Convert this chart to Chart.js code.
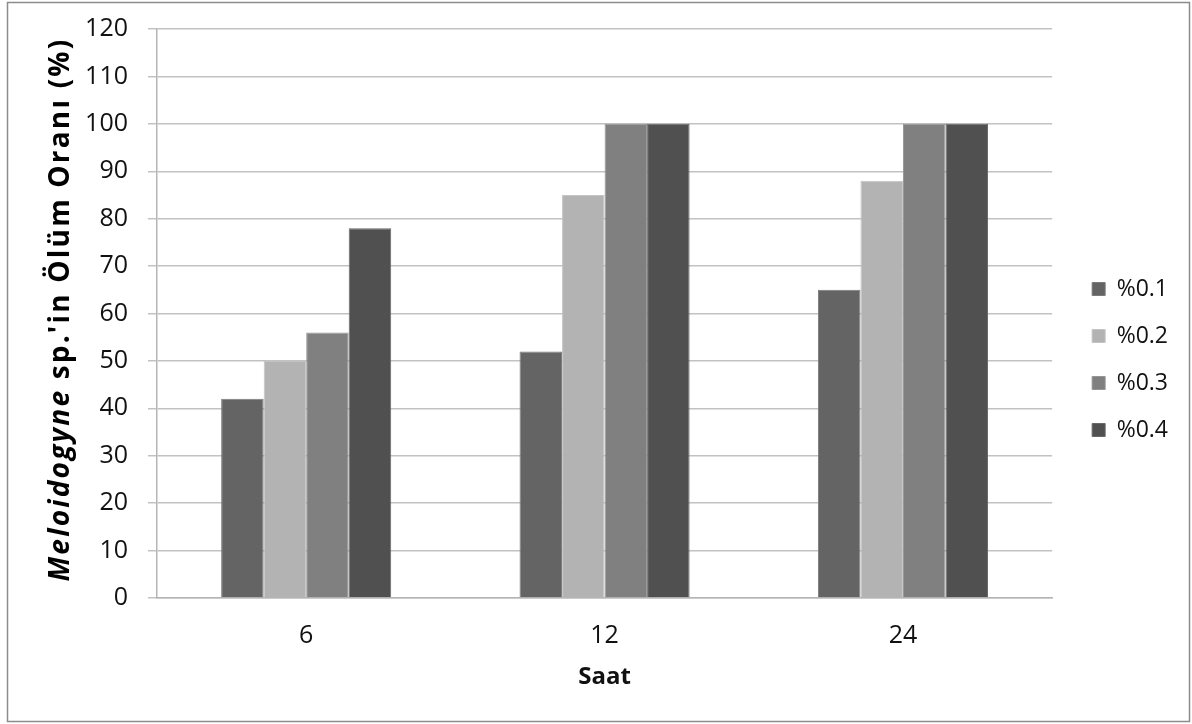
<!DOCTYPE html>
<html>
<head>
<meta charset="utf-8">
<script src="https://cdn.jsdelivr.net/npm/chart.js@4.4.1/dist/chart.umd.min.js"></script>
<style>
  html, body { margin: 0; padding: 0; background: #fff; }
  #wrap { position: absolute; left: 0; top: 0; width: 1192px; height: 724px; }
</style>
</head>
<body>
<div id="wrap"><canvas id="myChart"></canvas></div>
<script>
  // Saat (hours) on the x axis
  const saat = ['6', '12', '24'];
  // mortality % per concentration
  const doz01 = [42, 52, 65];
  const doz02 = [50, 85, 88];
  const doz03 = [56, 100, 100];
  const doz04 = [78, 100, 100];
  const seriesLabels = ['%0.1', '%0.2', '%0.3', '%0.4'];
  const yTitleItalic = 'Meloidogyne';
  const yTitleRest = " sp.'in Ölüm Oranı (%)";
  const xTitle = 'Saat';

  const FONT = "'Open Sans', sans-serif";

  // frame around whole chart
  const framePlugin = {
    id: 'frame',
    beforeDraw(chart) {
      const c = chart.ctx;
      c.save();
      c.fillStyle = '#fff';
      c.fillRect(0, 0, chart.width, chart.height);
      c.strokeStyle = '#8c8c8c';
      c.lineWidth = 1.5;
      c.strokeRect(7.5, 2.5, 1182, 719);
      c.restore();
    }
  };

  // y title with italic genus name
  const yTitlePlugin = {
    id: 'yTitle',
    afterDraw(chart) {
      const c = chart.ctx;
      const area = chart.chartArea;
      const fItalic = "italic bold 28px " + FONT;
      const fBold = "bold 28px " + FONT;
      c.save();
      c.fillStyle = '#000';
      c.textBaseline = 'middle';
      c.letterSpacing = '2.2px';
      c.font = fItalic;
      const w1 = c.measureText(yTitleItalic).width;
      c.font = fBold;
      const w2 = c.measureText(yTitleRest).width;
      c.translate(61, (area.top + area.bottom) / 2 - 4);
      c.rotate(-Math.PI / 2);
      let x = -(w1 + w2) / 2;
      c.font = fItalic;
      c.fillText(yTitleItalic, x, 0);
      c.font = fBold;
      c.fillText(yTitleRest, x + w1, 0);
      c.restore();
    }
  };

  // put legend a bit further from the plot, like the original
  const legendShift = {
    id: 'legendShift',
    afterLayout(chart) {
      const lg = chart.legend;
      if (!lg) return;
      const dx = (chart.chartArea.right + 40) - (lg.left + 24);
      lg.left += dx;
      lg.right += dx;
      lg.top -= 7;
      lg.bottom -= 7;
    }
  };

  function bar(label, data, color, edge) {
    return {
      label: label,
      data: data,
      backgroundColor: color,
      borderColor: edge,
      borderWidth: 1,
      barPercentage: 1.0,
      categoryPercentage: 0.57
    };
  }

  const ctx = document.getElementById('myChart');
  new Chart(ctx, {
    type: 'bar',
    data: {
      labels: saat,
      datasets: [
        bar(seriesLabels[0], doz01, '#646464', '#7a7a7a'),
        bar(seriesLabels[1], doz02, '#b3b3b3', '#c4c4c4'),
        bar(seriesLabels[2], doz03, '#808080', '#959595'),
        bar(seriesLabels[3], doz04, '#505050', '#686868')
      ]
    },
    options: {
      responsive: true,
      maintainAspectRatio: false,
      animation: false,
      layout: {
        padding: { left: 87, top: 29, right: 30, bottom: 20 }
      },
      scales: {
        x: {
          grid: { display: false, drawTicks: false },
          border: { display: true, color: '#b5b5b5', width: 1.5 },
          ticks: {
            color: '#111',
            font: { family: FONT, size: 25 },
            padding: 23
          },
          title: {
            display: true,
            text: xTitle,
            color: '#111',
            font: { family: FONT, size: 24, weight: 'bold' },
            padding: { top: 0, bottom: 12 }
          },
          afterFit(scale) { scale.height = 106; }
        },
        y: {
          min: 0,
          max: 120,
          grid: { color: '#c2c2c2', lineWidth: 1.5, drawTicks: true, tickLength: 9 },
          border: { display: true, color: '#b5b5b5', width: 1.5 },
          ticks: {
            stepSize: 10,
            color: '#111',
            font: { family: FONT, size: 25 },
            padding: 20
          },
          afterFit(scale) {
            scale.width = 70;
            scale.paddingTop = 0;
            scale.paddingBottom = 0;
          }
        }
      },
      plugins: {
        legend: {
          position: 'right',
          labels: {
            boxWidth: 13,
            boxHeight: 13,
            padding: 24,
            color: '#111',
            font: { family: FONT, size: 23 }
          }
        },
        tooltip: { enabled: false }
      }
    },
    plugins: [framePlugin, yTitlePlugin, legendShift]
  });
</script>
</body>
</html>
